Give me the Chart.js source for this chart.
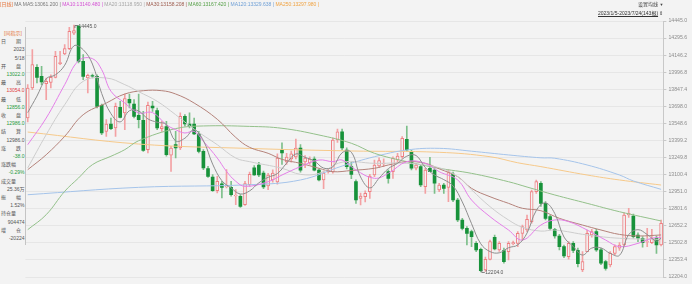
<!DOCTYPE html>
<html><head><meta charset="utf-8">
<script src="https://cdn.jsdelivr.net/npm/chart.js@4.4.1/dist/chart.umd.min.js"></script>
<style>
html,body{margin:0;padding:0;background:#f3f3f3;width:692px;height:284px;overflow:hidden;font-family:"Liberation Sans","Noto Sans CJK SC",sans-serif;}
#wrap{position:relative;width:692px;height:284px;}
canvas{position:absolute;left:0;top:0;}
.t{position:absolute;white-space:nowrap;font-size:5px;line-height:6px;color:#555;}
#panel{position:absolute;left:0;top:27px;width:25px;height:218px;border-right:1px solid #c4c4c4;background:#f3f3f3;}
</style></head><body>
<div id="wrap">
<canvas id="c" width="692" height="284"></canvas>
<div id="panel"></div>
<div id="hdr" class="t" style="left:0;top:1px;"></div>
<div class="t" style="left:638px;top:1px;color:#444;">设置均线 <span style="font-size:4px">▼</span></div>
<div class="t" style="left:598px;top:10px;color:#333;text-decoration:underline;">2023/1/5-2023/7/24(143根)</div>
<div class="t" style="left:659px;top:10px;color:#333;">⇕</div>
<div id="info"></div>
</div>
<script>
// ---- data ----
const opens  = [13601,13873,14061,13979,13913,13925,13970,14095,14182,14230,14372,14436,14115,13964,13985,13979,13716,13480,13547,13511,13698,13647,13771,13728,13625,13580,13314,13710,13668,13505,13523,13263,13359,13329,13616,13547,13547,13456,13299,13142,13066,12942,13003,12978,12972,12895,12891,12815,12997,13148,13175,13102,12984,13039,13021,13311,13202,13229,13247,13329,13202,13193,13229,13129,13039,13111,13111,13402,13475,13311,13160,13024,12872,12888,12933,13084,13166,13185,13114,13114,13220,13250,13408,13296,13145,13160,12978,13145,13129,12948,12993,12972,13093,12857,12676,12600,12570,12464,12410,12222,12319,12518,12404,12398,12389,12460,12464,12555,12585,12661,12933,13009,12827,12706,12591,12531,12434,12343,12464,12400,12222,12389,12540,12570,12404,12298,12268,12373,12420,12449,12721,12712,12540,12510,12475,12470,12510,12449];
const highs  = [13904,14221,14085,14070,13964,13994,14206,14206,14267,14424,14445,14440,14176,14000,14000,13994,13728,13586,13601,13737,13752,13819,13819,13768,13819,13662,13746,13752,13692,13571,13571,13344,13480,13647,13632,13647,13601,13480,13314,13163,13087,13072,13027,13133,13027,12951,12906,13027,13110,13170,13200,13120,13100,13130,13275,13375,13280,13300,13411,13360,13260,13250,13250,13140,13120,13140,13420,13500,13500,13330,13200,13040,12920,12940,13090,13220,13240,13230,13130,13250,13280,13432,13529,13311,13190,13175,13145,13244,13145,13009,13009,13130,13110,12872,12691,12615,12585,12480,12420,12340,12494,12540,12479,12420,12479,12485,12570,12630,12721,12948,13039,13024,12842,12721,12600,12545,12449,12480,12480,12420,12389,12585,12590,12590,12420,12310,12390,12450,12470,12740,12782,12730,12560,12525,12600,12590,12530,12676];
const lows   = [13565,13858,13919,13904,13768,13873,13964,14085,14176,14221,14357,14100,13949,13828,13964,13692,13450,13435,13495,13435,13601,13495,13692,13601,13511,13299,13284,13662,13495,13480,13254,13117,13238,13314,13526,13511,13450,13284,13133,13063,12936,12921,12876,12966,12891,12815,12791,12809,12980,13080,13070,12960,12950,13020,13000,13180,13180,13200,13230,13110,13150,13180,13120,13030,12960,13100,13100,13380,13311,13140,13050,12827,12812,12840,12872,13070,13150,13160,13009,13054,13200,13235,13296,13130,13130,12978,12918,13114,12918,12933,12918,12842,12842,12661,12585,12449,12434,12389,12204,12210,12313,12404,12390,12283,12313,12449,12434,12494,12570,12646,12918,12800,12676,12585,12510,12404,12334,12320,12380,12250,12207,12389,12520,12390,12270,12220,12250,12360,12400,12440,12700,12510,12480,12430,12434,12460,12373,12440];
const closes = [13873,14085,13970,13928,13934,13970,14161,14105,14230,14388,14394,14115,13979,13988,13980,13707,13465,13547,13505,13707,13607,13777,13737,13616,13586,13308,13716,13692,13511,13523,13269,13329,13329,13616,13547,13529,13456,13299,13148,13072,12942,13027,12972,12984,12906,12900,12800,13006,13090,13084,13084,12975,13084,13102,13238,13284,13247,13275,13329,13129,13238,13229,13129,13039,13102,13120,13402,13475,13329,13160,13090,12857,12893,12918,13075,13175,13214,13190,13054,13235,13256,13417,13311,13145,13175,12993,13129,13114,13009,12993,12963,13105,12857,12676,12600,12555,12525,12404,12216,12319,12479,12413,12464,12298,12464,12470,12555,12615,12682,12933,13024,12827,12691,12600,12531,12434,12349,12464,12400,12280,12298,12555,12570,12404,12283,12237,12373,12434,12449,12721,12736,12525,12510,12470,12480,12510,12449,12646];

// moving-average lines: [candle index, value]
const ma5   = [[0,13650],[2,13800],[4,13958],[6,13993],[8,14080],[10,14256],[12,14221],[14,14091],[16,13824],[18,13641],[20,13566],[22,13667],[24,13665],[26,13593],[28,13563],[30,13542],[32,13392],[34,13418],[36,13495],[38,13396],[40,13183],[42,13032],[44,12966],[46,12912],[48,12940],[50,13013],[52,13063],[54,13097],[56,13191],[58,13275],[60,13244],[62,13211],[64,13147],[66,13158],[68,13286],[70,13291],[72,13066],[74,12967],[76,13055],[78,13142],[80,13190],[82,13255],[84,13261],[86,13151],[88,13084],[90,13042],[92,12985],[94,12840],[96,12643],[98,12460],[100,12389],[102,12378],[104,12424],[106,12450],[108,12557],[110,12762],[112,12831],[114,12735],[116,12521],[118,12436],[120,12358],[122,12421],[124,12422],[126,12373],[128,12355],[130,12543],[132,12588],[134,12544],[136,12484],[137,12511]];
const ma10  = [[0,13359],[4,13601],[8,13904],[11,14121],[14,14140],[16,14040],[18,13844],[21,13737],[24,13647],[27,13650],[30,13540],[32,13495],[34,13465],[36,13480],[38,13390],[41,13238],[43,13117],[45,13027],[47,12981],[52,13023],[55,13084],[59,13160],[63,13220],[66,13205],[68,13220],[71,13129],[75,13054],[78,13099],[82,13205],[86,13190],[89,13114],[93,13039],[96,12857],[100,12706],[104,12585],[107,12494],[111,12630],[114,12676],[117,12661],[121,12585],[125,12494],[128,12434],[132,12464],[135,12510],[137,12519]];
const ma20  = [[0,13148],[4,13450],[8,13722],[12,13934],[17,13964],[21,13904],[24,13840],[28,13753],[32,13631],[36,13500],[41,13359],[45,13238],[48,13205],[55,13145],[59,13090],[63,13099],[68,13200],[75,13190],[82,13190],[89,13150],[93,13069],[96,12950],[100,12797],[104,12676],[107,12610],[111,12575],[114,12585],[121,12540],[128,12510],[137,12500]];
const ma30  = [[0,13132],[4,13268],[8,13435],[12,13631],[17,13737],[21,13819],[25,13849],[29,13849],[32,13819],[36,13737],[41,13590],[45,13425],[48,13335],[52,13281],[55,13226],[59,13190],[63,13145],[66,13114],[70,13125],[75,13145],[78,13175],[82,13205],[86,13190],[89,13140],[93,13069],[96,12963],[100,12887],[104,12827],[107,12782],[111,12760],[115,12691],[120,12630],[124,12585],[128,12545],[132,12531],[137,12540]];
const ma60  = [[0,12588],[4,12724],[8,12936],[11,13057],[14,13178],[18,13254],[21,13314],[24,13395],[32,13505],[38,13529],[48,13525],[55,13508],[63,13447],[70,13372],[75,13281],[82,13205],[89,13145],[96,13099],[104,13023],[108,12975],[114,12903],[121,12827],[128,12751],[137,12667]];
const ma120 = [[0,12905],[24,12972],[48,12996],[59,13039],[68,13165],[75,13250],[82,13311],[89,13326],[96,13300],[104,13266],[111,13240],[114,13236],[121,13175],[128,13084],[131,13030],[137,12954]];
const ma250 = [[0,13474],[24,13365],[48,13325],[70,13302],[89,13290],[100,13250],[106,13195],[111,13160],[121,13084],[128,13039],[137,12993]];

const tickLabels = ['14445.0','14295.6','14146.2','13996.8','13847.4','13698.0','13548.6','13399.2','13249.8','13100.4','12951.0','12801.6','12652.2','12502.8','12353.4','12204.0'];
const headerItems = [['[日线] ','#e5733a'],['MA MA5:13061.200 | ','#777'],['MA10:13140.480 | ','#d451d4'],['MA20:13118.950 | ','#a8a8a8'],['MA30:13158.208 | ','#9c5a4c'],['MA60:13167.420 | ','#56a048'],['MA120:13329.638 | ','#6e9fd6'],['MA250:13297.980 | ','#f0a342']];
const infoRows = [['[同指示]','c','#e5733a'],['日　　期','l','#555'],['2023','r','#555'],['5/18','r','#555'],['开　　盘','l','#555'],['13022.0','r','#1f9a3c'],['最　　高','l','#555'],['13054.0','r','#e03c3c'],['最　　低','l','#555'],['12856.0','r','#1f9a3c'],['收　　盘','l','#555'],['12986.0','r','#1f9a3c'],['结　　算','l','#555'],['12986.0','r','#555'],['涨　　跌','l','#555'],['-38.0','r','#1f9a3c'],['涨跌幅','l','#555'],['-0.29%','r','#1f9a3c'],['成交量','l','#555'],['25.36万','r','#555'],['振　　幅','l','#555'],['1.52%','r','#555'],['持仓量','l','#555'],['904474','r','#555'],['增　　仓','l','#555'],['-20224','r','#555']];

// ---- text overlays ----
document.getElementById('hdr').innerHTML = headerItems.map(([t,c])=>`<span style="color:${c}">${t}</span>`).join('');
const info = document.getElementById('info');
infoRows.forEach(([t,a,c],i)=>{
  const d=document.createElement('div');
  d.className='t';
  d.textContent=t;
  d.style.color=c;
  d.style.top=(30+i*8.2)+'px';
  if(a==='r'){d.style.right=(692-24.5)+'px';}
  else if(a==='c'){d.style.left='4px';}
  else {d.style.left='1px';}
  info.appendChild(d);
});

// ---- chart ----
const N = closes.length;
const labels = closes.map((_,i)=>String(i+1));
const BG = '#f3f3f3', RED = '#ee7f82', REDW = '#f3a1a3', GREEN = '#17923a', GREENW = '#7cbf8a';
const up = closes.map((c,i)=>c>=opens[i]);
const Y_TOP = 14481.3, Y_BOT = 12158.6;

function maSeries(pairs){
  const arr = new Array(N).fill(null);
  pairs.forEach(([i,v])=>{arr[i]=v;});
  return arr;
}
function maDS(pairs,color){
  return {type:'line',data:maSeries(pairs),borderColor:color,borderWidth:1,pointRadius:0,spanGaps:true,tension:0.4,order:0};
}

const markPlugin = {
  id:'marks',
  afterDatasetsDraw(chart){
    const {ctx,scales:{x,y}} = chart;
    const hi = Math.max(...highs), lo = Math.min(...lows);
    const hiI = highs.indexOf(hi), loI = lows.indexOf(lo);
    ctx.save();
    ctx.font = '5px "Liberation Sans", sans-serif';
    ctx.fillStyle = '#555'; ctx.strokeStyle='#666'; ctx.lineWidth=0.8;
    ctx.textBaseline='middle';
    let px = x.getPixelForValue(hiI), py = y.getPixelForValue(hi);
    ctx.beginPath(); ctx.moveTo(px+1,py+3); ctx.lineTo(px+1,py+0.5); ctx.lineTo(px+4,py+0.5); ctx.stroke();
    ctx.fillText(hi.toFixed(1), px+4.5, py+1.5);
    px = x.getPixelForValue(loI); py = y.getPixelForValue(lo);
    ctx.beginPath(); ctx.moveTo(px+1,py-2); ctx.lineTo(px+1,py+0.5); ctx.lineTo(px+4,py+0.5); ctx.stroke();
    ctx.fillText(lo.toFixed(1), px+4.5, py+0.5);
    ctx.restore();
  }
};

new Chart(document.getElementById('c'),{
  type:'bar',
  data:{
    labels,
    datasets:[
      maDS(ma5,'#8d8d8d'),
      maDS(ma10,'#e47fe8'),
      maDS(ma20,'#cdcdcd'),
      maDS(ma30,'#b4827a'),
      maDS(ma60,'#93c08a'),
      maDS(ma120,'#a5c4ea'),
      maDS(ma250,'#f6c98a'),
      {type:'bar',data:lows.map((l,i)=>[l,highs[i]]),backgroundColor:up.map(u=>u?REDW:GREENW),barThickness:1,grouped:false,order:3},
      {type:'bar',data:opens.map((o,i)=>[o,closes[i]]),backgroundColor:up.map(u=>u?BG:GREEN),borderColor:up.map(u=>u?RED:GREEN),borderWidth:up.map(u=>u?1:0),borderSkipped:false,barThickness:3,grouped:false,order:2}
    ]
  },
  options:{
    responsive:false,animation:false,devicePixelRatio:1,
    layout:{padding:{left:25.4,top:21,bottom:7,right:0}},
    plugins:{legend:{display:false},tooltip:{enabled:false}},
    scales:{
      x:{display:false,offset:true},
      y:{position:'right',min:Y_BOT,max:Y_TOP,
        afterBuildTicks:s=>{s.ticks=tickLabels.map((_,i)=>({value:Y_TOP-i*(Y_TOP-Y_BOT)/15}));},
        afterFit:s=>{s.width=28.6;},
        ticks:{callback:(v,i)=>tickLabels[i],font:{size:5.2,family:'"Liberation Sans", sans-serif'},color:'#8c8c8c',padding:2,autoSkip:false},
        grid:{color:'#e6e6e6',tickLength:3,tickColor:'#c8c8c8'},
        border:{display:true,color:'#c8c8c8'}
      }
    }
  },
  plugins:[markPlugin]
});
</script>
</body></html>
